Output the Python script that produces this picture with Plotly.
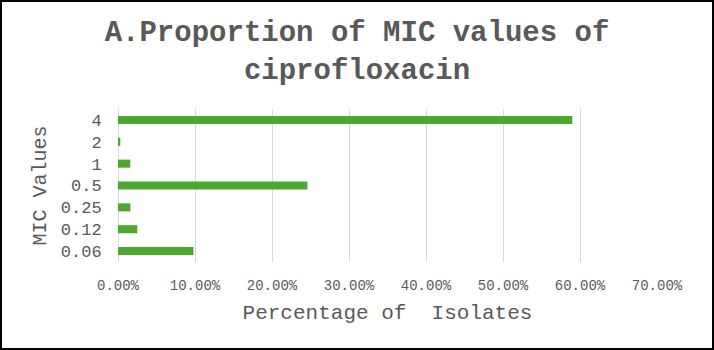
import plotly.graph_objects as go

mic_values = ["0.06", "0.12", "0.25", "0.5", "1", "2", "4"]
percent_isolates = [0.098, 0.025, 0.016, 0.246, 0.016, 0.003, 0.590]
x_ticks = [0, 0.1, 0.2, 0.3, 0.4, 0.5, 0.6, 0.7]

W, H = 714, 350
ml, mr, mt, mb = 118, 57, 109, 88
pw, ph = W - ml - mr, H - mt - mb

FONT = "Liberation Mono, Courier New, monospace"
GRAY = "#595959"

fig = go.Figure(go.Bar(
    x=percent_isolates, y=mic_values, orientation="h",
    marker=dict(color="#4EA72E", line=dict(width=0)),
    width=0.37,
))

fig.update_layout(
    width=W, height=H,
    margin=dict(l=ml, r=mr, t=mt, b=mb, autoexpand=False),
    paper_bgcolor="white", plot_bgcolor="white",
    showlegend=False,
    font=dict(family=FONT, color=GRAY),
    title=dict(
        text="<b>A.Proportion of MIC values of<br>ciprofloxacin</b>",
        x=0.5, xref="container", xanchor="center",
        y=1 - 41 / H, yref="container", yanchor="middle",
        font=dict(family=FONT, size=29, color=GRAY),
    ),
    xaxis=dict(
        range=[0, 0.7], tickvals=x_ticks, tickformat=".2%",
        showgrid=True, gridcolor="#D9D9D9", gridwidth=1,
        zeroline=True, zerolinecolor="#D9D9D9", zerolinewidth=1,
        showline=False, ticks="outside", ticklen=10, tickcolor="rgba(0,0,0,0)",
        tickfont=dict(family=FONT, size=14, color=GRAY),
        title=dict(text="Percentage of \u00a0Isolates", standoff=11,
                   font=dict(family=FONT, size=21, color=GRAY)),
        fixedrange=True,
    ),
    yaxis=dict(
        categoryorder="array", categoryarray=mic_values,
        showgrid=False, showline=False,
        ticks="outside", ticklen=12, tickcolor="rgba(0,0,0,0)",
        tickfont=dict(family=FONT, size=17, color=GRAY),
        title=dict(text="MIC Values", standoff=8,
                   font=dict(family=FONT, size=20, color=GRAY)),
        fixedrange=True,
    ),
    shapes=[dict(
        type="rect", xref="paper", yref="paper",
        x0=-ml / pw, x1=1 + mr / pw, y0=-mb / ph, y1=1 + mt / ph,
        line=dict(color="black", width=4), fillcolor="rgba(0,0,0,0)",
        layer="above",
    )],
)

fig.write_html("out.html", config={"displayModeBar": False})
